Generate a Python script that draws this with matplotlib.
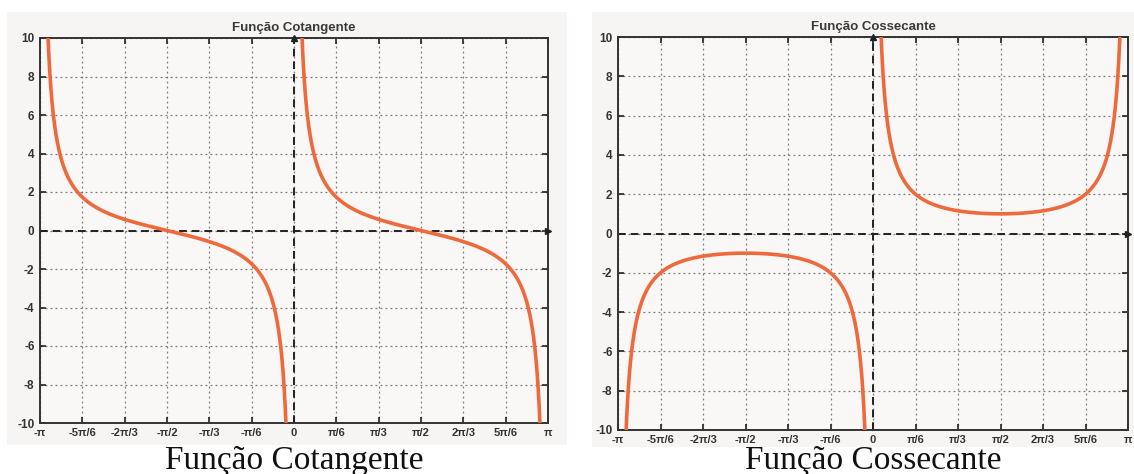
import numpy as np
import matplotlib
matplotlib.use("Agg")
import matplotlib.pyplot as plt

plt.rcParams["axes.unicode_minus"] = False

# ---- data ----
titles = ["Função Cotangente", "Função Cossecante"]
captions = ["Função Cotangente", "Função Cossecante"]
tick_vals = [k * np.pi / 6 for k in range(-6, 7)]
tick_labels = ["-π", "-5π/6", "-2π/3", "-π/2", "-π/3", "-π/6", "0",
               "π/6", "π/3", "π/2", "2π/3", "5π/6", "π"]
y_ticks = [-10, -8, -6, -4, -2, 0, 2, 4, 6, 8, 10]

# function branches (the charts plot cot(x) and csc(x) on (-π, π))
x_neg = np.linspace(-np.pi + 1e-3, -1e-3, 2000)
x_pos = np.linspace(1e-3, np.pi - 1e-3, 2000)
cot_neg = np.cos(x_neg) / np.sin(x_neg)
cot_pos = np.cos(x_pos) / np.sin(x_pos)
csc_neg = 1.0 / np.sin(x_neg)
csc_pos = 1.0 / np.sin(x_pos)
series = [[(x_neg, cot_neg), (x_pos, cot_pos)],
          [(x_neg, csc_neg), (x_pos, csc_pos)]]

W, H = 1134, 474
fig = plt.figure(figsize=(W / 100, H / 100), dpi=100)
fig.patch.set_facecolor("white")

# panel backgrounds (px): x0, y0(top), x1, y1(bottom)
panels = [(7, 12, 567, 445), (592, 12, 1134, 447)]
axes_px = [(40, 38, 548, 423), (618, 37, 1128, 430)]
line_color = "#ee6a3c"

for i in range(2):
    px0, py0, px1, py1 = panels[i]
    bg = fig.add_axes([px0 / W, 1 - py1 / H, (px1 - px0) / W, (py1 - py0) / H], zorder=-10)
    bg.set_facecolor("#f6f5f3")
    bg.set_xticks([]); bg.set_yticks([])
    for s in bg.spines.values():
        s.set_visible(False)
    ax0, ay0, ax1, ay1 = axes_px[i]
    ax = fig.add_axes([ax0 / W, 1 - ay1 / H, (ax1 - ax0) / W, (ay1 - ay0) / H], zorder=1)
    ax.set_facecolor("#f9f8f6")
    for xs, ys in series[i]:
        ys = np.where(np.abs(ys) > 10.5, np.nan, ys)
        ax.plot(xs, ys, color=line_color, lw=2.6, zorder=3, solid_capstyle="butt")
    ax.set_xlim(-np.pi, np.pi)
    ax.set_ylim(-10, 10)
    ax.set_xticks(tick_vals)
    ax.set_xticklabels(tick_labels)
    ax.set_yticks(y_ticks)
    ax.grid(True, linestyle=(0, (1.5, 2.5)), color="#7a7a7a", lw=0.9)
    ax.tick_params(direction="in", top=True, right=True, length=4, width=1.2,
                   colors="#222222")
    ax.tick_params(axis="x", labelsize=8, pad=3.5)
    ax.tick_params(axis="y", labelsize=8.5, pad=4)
    for lab in ax.get_xticklabels() + ax.get_yticklabels():
        lab.set_fontfamily("Liberation Sans")
        lab.set_fontweight("bold")
        lab.set_color("#333333")
    for s in ax.spines.values():
        s.set_linewidth(1.4)
        s.set_color("#333333")
    # dashed axes with arrows
    ax.axhline(0, color="#222222", lw=1.4, ls=(0, (4, 2.5)), zorder=2)
    ax.axvline(0, color="#222222", lw=1.4, ls=(0, (4, 2.5)), zorder=2)
    ax.plot([0], [10], marker="^", color="#222222", ms=5, clip_on=False, zorder=4)
    ax.plot([np.pi], [0], marker=">", color="#222222", ms=5, clip_on=False, zorder=4)
    ax.set_title(titles[i], fontsize=9.5, fontfamily="Liberation Sans", fontweight="bold",
                 color="#3a3a3a", pad=5)
    fig.text(((ax0 + ax1) / 2) / W, 1 - 461 / H, captions[i], ha="center", va="center",
             fontsize=24, fontfamily="Liberation Serif", color="#111111")

fig.savefig("out.png", dpi=100, facecolor="white")
